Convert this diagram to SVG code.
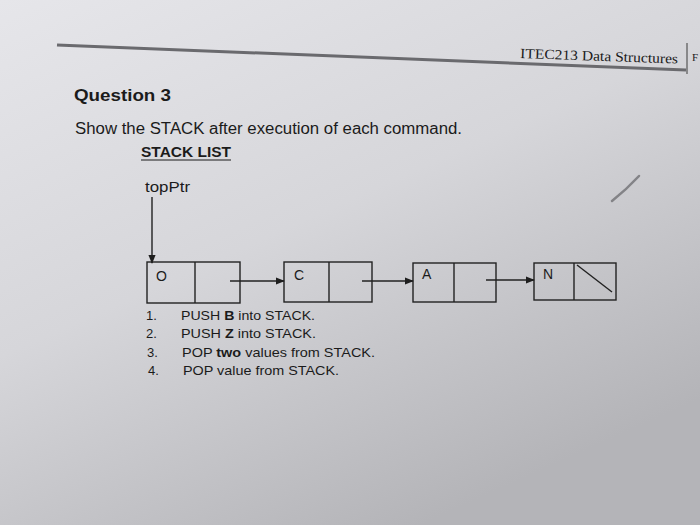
<svg xmlns="http://www.w3.org/2000/svg" width="700" height="525" viewBox="0 0 700 525">
<defs>
<linearGradient id="bg" x1="0" y1="0" x2="0.6" y2="1">
<stop offset="0" stop-color="#e6e6ea"/>
<stop offset="0.5" stop-color="#d6d6da"/>
<stop offset="1" stop-color="#b4b4b8"/>
</linearGradient>
<marker id="ah" viewBox="0 0 10 10" refX="9" refY="5" markerWidth="9" markerHeight="9" orient="auto" markerUnits="userSpaceOnUse">
<path d="M0,1 L10,5 L0,9 Z" fill="#1e1e1e"/>
</marker>
<style>
.t{font-family:"Liberation Sans","Open Sans",Arial,sans-serif;fill:#1b1b1b}
.s{font-family:"Liberation Serif","Times New Roman",serif;fill:#1b1b1b}
.box{fill:none;stroke:#222;stroke-width:1.4}
.ln{stroke:#222;stroke-width:1.4;fill:none}
</style>
</defs>
<rect width="700" height="525" fill="url(#bg)"/>
<g id="header">
<line x1="57" y1="45" x2="686" y2="70" stroke="#6a6a6e" stroke-width="3"/>
<line x1="687" y1="43" x2="687" y2="74" stroke="#555" stroke-width="1.2"/>
<text class="s" x="520" y="58" font-size="14" textLength="158" lengthAdjust="spacingAndGlyphs" transform="rotate(2 520 58)">ITEC213 Data Structures</text>
<text class="s" x="692" y="61" font-size="11">F</text>
</g>
<g id="title">
<text class="t" x="74" y="101" font-size="17" font-weight="bold" textLength="97" lengthAdjust="spacingAndGlyphs">Question 3</text>
<text class="t" x="75" y="134" font-size="16" textLength="387" lengthAdjust="spacingAndGlyphs">Show the STACK after execution of each command.</text>
<text class="t" x="141" y="157" font-size="14" font-weight="bold" textLength="90" lengthAdjust="spacingAndGlyphs">STACK  LIST</text>
<line x1="141" y1="160" x2="231" y2="160" stroke="#1b1b1b" stroke-width="1.2"/>
<text class="t" x="145" y="192" font-size="14" textLength="45" lengthAdjust="spacingAndGlyphs">topPtr</text>
</g>
<g id="connectors">
<line class="ln" x1="152" y1="197" x2="152" y2="263" marker-end="url(#ah)"/>
<line class="ln" x1="230" y1="281" x2="284" y2="281" marker-end="url(#ah)"/>
<line class="ln" x1="362" y1="281" x2="413" y2="281" marker-end="url(#ah)"/>
<line class="ln" x1="486" y1="280" x2="534" y2="280" marker-end="url(#ah)"/>
</g>
<g id="node-O">
<rect class="box" x="147" y="262" width="93" height="41"/>
<line class="ln" x1="195" y1="262" x2="195" y2="303"/>
<text class="t" x="156" y="281" font-size="14">O</text>
</g>
<g id="node-C">
<rect class="box" x="284" y="262" width="88" height="40"/>
<line class="ln" x1="329" y1="262" x2="329" y2="302"/>
<text class="t" x="294" y="280" font-size="14">C</text>
</g>
<g id="node-A">
<rect class="box" x="413" y="263" width="83" height="39"/>
<line class="ln" x1="454" y1="263" x2="454" y2="302"/>
<text class="t" x="422" y="279" font-size="14">A</text>
</g>
<g id="node-N">
<rect class="box" x="534" y="263" width="82" height="37"/>
<line class="ln" x1="574" y1="263" x2="574" y2="300"/>
<line class="ln" x1="577" y1="265" x2="612" y2="292"/>
<text class="t" x="543" y="279" font-size="14">N</text>
</g>
<g id="commands">
<text class="t" x="146" y="320" font-size="13">1.</text>
<text class="t" x="181" y="320" font-size="13" textLength="134" lengthAdjust="spacingAndGlyphs">PUSH <tspan font-weight="bold">B</tspan> into STACK.</text>
<text class="t" x="146" y="338" font-size="13">2.</text>
<text class="t" x="181" y="338" font-size="13" textLength="135" lengthAdjust="spacingAndGlyphs">PUSH <tspan font-weight="bold">Z</tspan> into STACK.</text>
<text class="t" x="147" y="357" font-size="13">3.</text>
<text class="t" x="182" y="357" font-size="13" textLength="193" lengthAdjust="spacingAndGlyphs">POP <tspan font-weight="bold">two</tspan> values from STACK.</text>
<text class="t" x="148" y="375" font-size="13">4.</text>
<text class="t" x="183" y="375" font-size="13" textLength="156" lengthAdjust="spacingAndGlyphs">POP value from STACK.</text>
</g>
<path d="M612,201 Q626,190 639,176" stroke="#707074" stroke-width="2.5" fill="none" stroke-linecap="round" opacity="0.8"/>
</svg>
